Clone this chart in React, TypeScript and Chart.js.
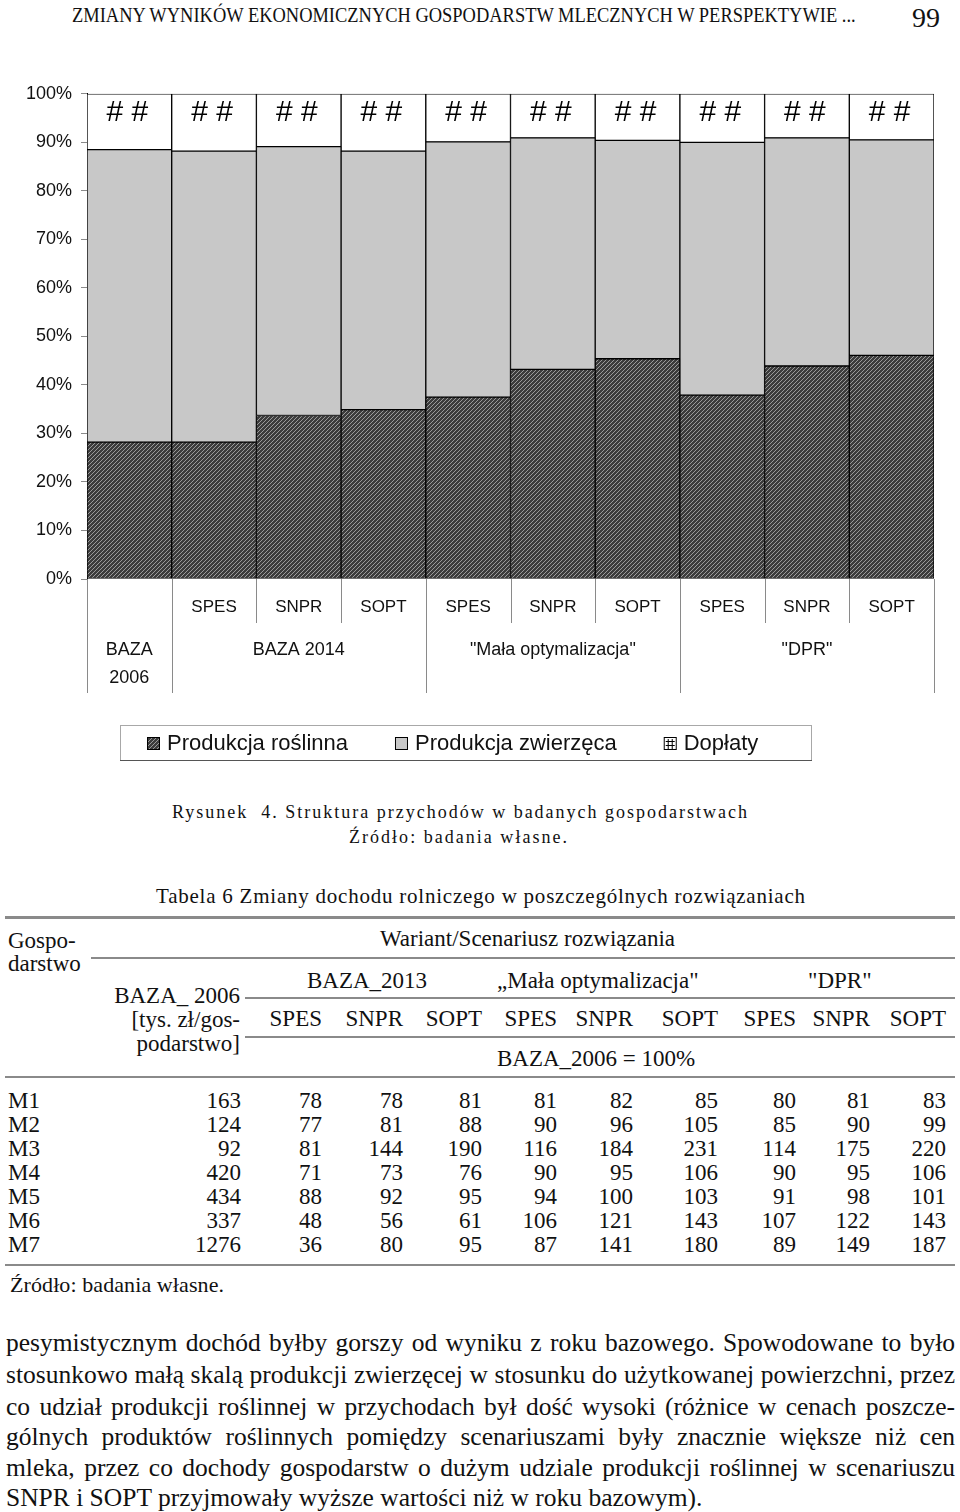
import React, { useEffect, useRef } from 'react';
import { Chart, registerables } from 'chart.js';

Chart.register(...registerables);

// ---------- chart data ----------
const categories = [
  'BAZA 2006',
  'BAZA 2014 SPES', 'BAZA 2014 SNPR', 'BAZA 2014 SOPT',
  'Mała optymalizacja SPES', 'Mała optymalizacja SNPR', 'Mała optymalizacja SOPT',
  'DPR SPES', 'DPR SNPR', 'DPR SOPT',
];
const subLabels = ['', 'SPES', 'SNPR', 'SOPT', 'SPES', 'SNPR', 'SOPT', 'SPES', 'SNPR', 'SOPT'];
const groupLabels = [['BAZA', '2006'], ['BAZA 2014'], ['"Mała optymalizacja"'], ['"DPR"']];
const groupSpans = [1, 3, 3, 3];
const seriesNames = ['Produkcja roślinna', 'Produkcja zwierzęca', 'Dopłaty'];
const plantShare = [28.2, 28.2, 33.7, 34.9, 37.5, 43.2, 45.4, 37.9, 43.9, 46.1];
const animalShare = [60.3, 60.0, 55.4, 53.3, 52.6, 47.7, 45.0, 52.1, 47.0, 44.4];
const subsidyShare = [11.5, 11.8, 10.9, 11.8, 9.9, 9.1, 9.6, 10.0, 9.1, 9.5];
const overflowLabel = '# #';
const yTicks = [0, 10, 20, 30, 40, 50, 60, 70, 80, 90, 100];

// ---------- table data ----------
const farms = ['M1', 'M2', 'M3', 'M4', 'M5', 'M6', 'M7'];
const baza2006 = [163, 124, 92, 420, 434, 337, 1276];
const rowM1 = [78, 78, 81, 81, 82, 85, 80, 81, 83];
const rowM2 = [77, 81, 88, 90, 96, 105, 85, 90, 99];
const rowM3 = [81, 144, 190, 116, 184, 231, 114, 175, 220];
const rowM4 = [71, 73, 76, 90, 95, 106, 90, 95, 106];
const rowM5 = [88, 92, 95, 94, 100, 103, 91, 98, 101];
const rowM6 = [48, 56, 61, 106, 121, 143, 107, 122, 143];
const rowM7 = [36, 80, 95, 87, 141, 180, 89, 149, 187];
const tableRows = [rowM1, rowM2, rowM3, rowM4, rowM5, rowM6, rowM7];
const scenarioHeads = ['SPES', 'SNPR', 'SOPT', 'SPES', 'SNPR', 'SOPT', 'SPES', 'SNPR', 'SOPT'];

const bodyLines = [
  'pesymistycznym dochód byłby gorszy od wyniku z roku bazowego. Spowodowane to było',
  'stosunkowo małą skalą produkcji zwierzęcej w stosunku do użytkowanej powierzchni, przez',
  'co udział produkcji roślinnej w przychodach był dość wysoki (różnice w cenach poszcze-',
  'gólnych produktów roślinnych pomiędzy scenariuszami były znacznie większe niż cen',
  'mleka, przez co dochody gospodarstw o dużym udziale produkcji roślinnej w scenariuszu',
  'SNPR i SOPT przyjmowały wyższe wartości niż w roku bazowym).',
];

const SERIF = '"Liberation Serif", "Times New Roman", serif';
const SANS = '"Liberation Sans", Arial, sans-serif';

let mctx: CanvasRenderingContext2D | null = null;
function measure(text: string, font: string): number {
  if (!mctx) mctx = document.createElement('canvas').getContext('2d');
  mctx!.font = font;
  return mctx!.measureText(text).width;
}

type TP = {
  text: string; x: number; y: number; size: number; family?: string;
  align?: 'left' | 'right' | 'center'; fit?: number; mode?: 'spacing' | 'scale' | 'words';
};
function Txt({ text, x, y, size, family = SERIF, align = 'left', fit, mode = 'spacing' }: TP) {
  const lh = Math.round(size * 1.25);
  const style: any = {
    position: 'absolute', top: y - lh / 2, fontSize: size, lineHeight: lh + 'px',
    fontFamily: family, whiteSpace: 'pre', color: '#111',
  };
  if (fit) {
    const w = measure(text, `${size}px ${family}`);
    if (mode === 'spacing') style.letterSpacing = (fit - w) / Math.max(1, text.length - 1) + 'px';
    else if (mode === 'words') {
      const n = (text.match(/ /g) || []).length;
      style.wordSpacing = (fit - w) / Math.max(1, n) + 'px';
    } else {
      style.transform = `scaleX(${fit / w})`;
      style.transformOrigin = 'left center';
    }
  }
  if (align === 'left') style.left = x;
  else if (align === 'right') style.right = 960 - x;
  else { style.left = x - 480; style.width = 960; style.textAlign = 'center'; }
  return <div style={style}>{text}</div>;
}

function HLine({ x1, x2, y, w = 2, color = '#8a8a8a' }: { x1: number; x2: number; y: number; w?: number; color?: string }) {
  return <div style={{ position: 'absolute', left: x1, top: y - w / 2, width: x2 - x1, height: w, background: color }} />;
}

const CANVAS_TOP = 74;
const CANVAS_H = 696;

function ChartBlock() {
  const ref = useRef<HTMLCanvasElement | null>(null);
  useEffect(() => {
    const canvas = ref.current!;
    const ctx = canvas.getContext('2d')!;
    const pc = document.createElement('canvas');
    pc.width = 4; pc.height = 4;
    const g = pc.getContext('2d')!;
    g.fillStyle = '#3c3c3c'; g.fillRect(0, 0, 4, 4);
    g.fillStyle = '#9a9a9a';
    for (let i = 0; i < 4; i++) g.fillRect(i, 3 - i, 1, 1);
    const plantPattern = ctx.createPattern(pc, 'repeat')!;

    const xLabelsPlugin = {
      id: 'xLabels',
      afterDraw(chart: any) {
        const c = chart.ctx;
        const xs = chart.scales.x;
        const area = chart.chartArea;
        const step = xs.getPixelForValue(1) - xs.getPixelForValue(0);
        const edge = (i: number) => xs.getPixelForValue(0) - step / 2 + i * step;
        const groupEdges = [0];
        let acc = 0;
        groupSpans.forEach((s) => { acc += s; groupEdges.push(acc); });
        c.save();
        c.strokeStyle = '#8a8a8a';
        c.lineWidth = 1;
        for (let i = 0; i <= categories.length; i++) {
          const x = Math.round(edge(i)) + 0.5;
          const isG = groupEdges.includes(i);
          c.beginPath();
          c.moveTo(x, area.bottom);
          c.lineTo(x, area.bottom + (isG ? 114 : 44));
          c.stroke();
        }
        c.fillStyle = '#111';
        c.textAlign = 'center';
        c.textBaseline = 'middle';
        c.font = `17px ${SANS}`;
        subLabels.forEach((t, i) => {
          if (t) c.fillText(t, xs.getPixelForValue(i), area.bottom + 28);
        });
        c.font = `18px ${SANS}`;
        groupLabels.forEach((lines, gi) => {
          const cx = (edge(groupEdges[gi]) + edge(groupEdges[gi + 1])) / 2;
          lines.forEach((t, li) => c.fillText(t, cx, area.bottom + 71 + li * 28));
        });

        // legend (page y 725..760)
        const top = 725 - CANVAS_TOP, bot = 760 - CANVAS_TOP, left = 120, right = 811;
        c.strokeStyle = '#a8a8a8';
        c.strokeRect(left + 0.5, top + 0.5, right - left, bot - top);
        c.strokeStyle = '#555';
        c.beginPath(); c.moveTo(left, bot + 0.5); c.lineTo(right + 1, bot + 0.5); c.stroke();
        c.font = `22px ${SANS}`;
        c.textAlign = 'left';
        let x = 147;
        const cy = top + 18;
        chart.data.datasets.forEach((ds: any, i: number) => {
          c.fillStyle = ds.backgroundColor;
          c.fillRect(x, cy - 6, 13, 13);
          c.strokeStyle = '#000';
          c.strokeRect(x + 0.5, cy - 5.5, 12, 12);
          if (i === 2) {
            c.beginPath();
            c.moveTo(x + 4.5, cy - 4); c.lineTo(x + 4.5, cy + 6);
            c.moveTo(x + 8.5, cy - 4); c.lineTo(x + 8.5, cy + 6);
            c.moveTo(x + 2, cy - 1.5); c.lineTo(x + 11, cy - 1.5);
            c.moveTo(x + 2, cy + 2.5); c.lineTo(x + 11, cy + 2.5);
            c.stroke();
          }
          c.fillStyle = '#111';
          c.fillText(ds.label, x + 20, cy + 1);
          x += 20 + c.measureText(ds.label).width + 47;
        });
        c.restore();
      },
      afterDatasetsDraw(chart: any) {
        const c = chart.ctx;
        const meta = chart.getDatasetMeta(2);
        c.save();
        c.fillStyle = '#000';
        c.font = `30px ${SANS}`;
        c.textAlign = 'center';
        c.textBaseline = 'middle';
        meta.data.forEach((el: any) => {
          c.fillText(overflowLabel, el.x - 2, el.y + 19);
        });
        c.restore();
      },
    };

    const common = {
      borderColor: '#000', borderWidth: 1, borderSkipped: false,
      barPercentage: 1, categoryPercentage: 1, stack: 's',
    };
    const chart = new Chart(canvas, {
      type: 'bar',
      data: {
        labels: categories,
        datasets: [
          { ...common, label: seriesNames[0], data: plantShare, backgroundColor: plantPattern },
          { ...common, label: seriesNames[1], data: animalShare, backgroundColor: '#c8c8c8' },
          { ...common, label: seriesNames[2], data: subsidyShare, backgroundColor: '#ffffff' },
        ],
      } as any,
      options: {
        responsive: false,
        animation: false,
        events: [],
        layout: { padding: { top: 8, right: 26, bottom: CANVAS_H - (579 - CANVAS_TOP), left: 0 } },
        plugins: { legend: { display: false }, tooltip: { enabled: false } },
        scales: {
          x: { stacked: true, display: false },
          y: {
            stacked: true, min: 0, max: 100,
            afterFit: (s: any) => { s.width = 87; },
            afterBuildTicks: (s: any) => { s.ticks = yTicks.map((v) => ({ value: v })); },
            ticks: {
              padding: 9, color: '#111', font: { family: SANS, size: 18 },
              callback: (v: any) => v + '%',
            },
            grid: { drawOnChartArea: false, drawTicks: true, tickLength: 6, color: '#8a8a8a' },
            border: { display: true, color: '#000', width: 1 },
          },
        },
      } as any,
      plugins: [xLabelsPlugin],
    });
    return () => chart.destroy();
  }, []);
  return (
    <div style={{ position: 'absolute', left: 0, top: CANVAS_TOP, width: 960, height: CANVAS_H }}>
      <canvas ref={ref} width={960} height={CANVAS_H} />
    </div>
  );
}

const colRights = [322, 403, 482, 557, 633, 718, 796, 870, 946];
const rowYs = [1100, 1124, 1148, 1172, 1196, 1220, 1244];
const bodyYs = [1343, 1375, 1407, 1437, 1468, 1498];

export default function App() {
  const TS = 23;
  return (
    <div style={{ position: 'absolute', left: 0, top: 0, width: 960, height: 1512, background: '#fff', overflow: 'hidden' }}>
      <Txt text="ZMIANY WYNIKÓW EKONOMICZNYCH GOSPODARSTW MLECZNYCH W PERSPEKTYWIE ..." x={72} y={15} size={20} fit={786} mode="scale" />
      <Txt text="99" x={912} y={17} size={28} />

      <ChartBlock />

      <Txt text="Rysunek  4. Struktura przychodów w badanych gospodarstwach" x={172} y={812} size={18} fit={575} />
      <Txt text="Źródło: badania własne." x={349} y={837} size={18} fit={218} />

      <Txt text="Tabela 6 Zmiany dochodu rolniczego w poszczególnych rozwiązaniach" x={156} y={896} size={21} fit={649} />

      <HLine x1={5} x2={955} y={917} w={3} />
      <Txt text="Gospo-" x={8} y={940} size={TS} />
      <Txt text="darstwo" x={8} y={963} size={TS} />
      <Txt text="Wariant/Scenariusz rozwiązania" x={380} y={938} size={TS} />
      <HLine x1={91} x2={955} y={958} />
      <Txt text="BAZA_2013" x={307} y={980} size={TS} />
      <Txt text={'„Mała optymalizacja"'} x={497} y={980} size={TS} />
      <Txt text={'"DPR"'} x={808} y={980} size={TS} />
      <Txt text="BAZA_ 2006" x={240} y={995} size={TS} align="right" />
      <HLine x1={245} x2={955} y={998} />
      <Txt text="[tys. zł/gos-" x={240} y={1019} size={TS} align="right" />
      <Txt text="podarstwo]" x={240} y={1043} size={TS} align="right" />
      {scenarioHeads.map((h, i) => (
        <Txt key={'h' + i} text={h} x={colRights[i]} y={1018} size={TS} align="right" />
      ))}
      <HLine x1={245} x2={955} y={1037} />
      <Txt text="BAZA_2006 = 100%" x={497} y={1058} size={TS} />
      <HLine x1={5} x2={955} y={1077} />

      {farms.map((f, r) => (
        <React.Fragment key={f}>
          <Txt text={f} x={8} y={rowYs[r]} size={TS} />
          <Txt text={String(baza2006[r])} x={241} y={rowYs[r]} size={TS} align="right" />
          {tableRows[r].map((v, c) => (
            <Txt key={c} text={String(v)} x={colRights[c]} y={rowYs[r]} size={TS} align="right" />
          ))}
        </React.Fragment>
      ))}
      <HLine x1={5} x2={955} y={1265} />
      <Txt text="Źródło: badania własne." x={10} y={1285} size={22} fit={214} />

      {bodyLines.map((t, i) => (
        <Txt key={'b' + i} text={t} x={6} y={bodyYs[i]} size={25.5} fit={i < bodyLines.length - 1 ? 949 : undefined} mode="words" />
      ))}
    </div>
  );
}
